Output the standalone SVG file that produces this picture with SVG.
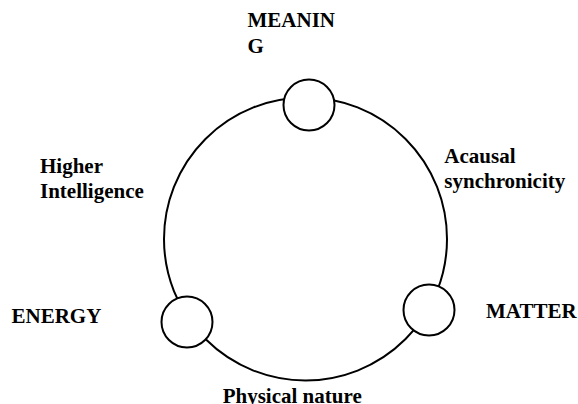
<svg xmlns="http://www.w3.org/2000/svg" width="578" height="404" viewBox="0 0 578 404">
<style>
.ln{fill:none;stroke:#000;stroke-width:2}
.nd{fill:#fff;stroke:#000;stroke-width:2}
.t{font-family:"Liberation Serif","Times New Roman",serif;font-weight:bold;font-size:21px;fill:#000}
</style>
<rect width="578" height="404" fill="#fff"/>
<g id="connectors">
<circle class="ln" cx="305.5" cy="239" r="141.5"/>
</g>
<g id="node-meaning">
<circle class="nd" cx="309" cy="105" r="25.5"/>
<text class="t" x="247.5" y="27">MEANIN</text>
<text class="t" x="247.5" y="52.5">G</text>
</g>
<g id="node-energy">
<circle class="nd" cx="187" cy="322" r="25.5"/>
<text class="t" x="11.5" y="322.7">ENERGY</text>
</g>
<g id="node-matter">
<circle class="nd" cx="429" cy="310" r="25.5"/>
<text class="t" x="486" y="317.5">MATTER</text>
</g>
<g id="label-higher">
<text class="t" x="40" y="173.3">Higher</text>
<text class="t" x="40" y="198.3">Intelligence</text>
</g>
<g id="label-acausal">
<text class="t" x="444.3" y="162.7">Acausal</text>
<text class="t" x="444.3" y="187.5">synchronicity</text>
</g>
<g id="label-physical">
<text class="t" x="222.7" y="403">Physical nature</text>
</g>
</svg>
